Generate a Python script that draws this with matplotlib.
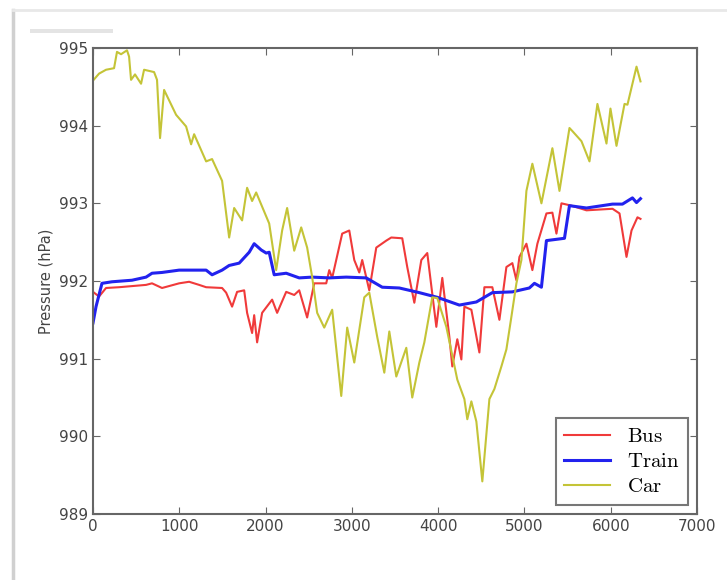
import matplotlib
matplotlib.use('Agg')
import matplotlib.pyplot as plt
from matplotlib.lines import Line2D
from matplotlib.patches import Rectangle

# values (time index, pressure hPa)
car_x = [0, 70, 151, 244, 278, 325, 394, 418, 441, 487, 557, 592, 708, 742, 777, 824,
         963, 1079, 1137, 1172, 1311, 1380, 1496, 1578, 1636, 1728, 1786, 1844, 1891,
         2042, 2123, 2192, 2250, 2332, 2413, 2482, 2540, 2598, 2680, 2772, 2877, 2946,
         3028, 3144, 3202, 3294, 3376, 3434, 3515, 3631, 3700, 3782, 3840, 3932, 3990,
         4095, 4222, 4304, 4338, 4385, 4443, 4512, 4594, 4652, 4733, 4791, 4849, 4907,
         4965, 5023, 5092, 5197, 5324, 5406, 5522, 5556, 5661, 5754, 5846, 5951, 5997,
         6067, 6160, 6194, 6299, 6345]
car_y = [994.58, 994.67, 994.72, 994.74, 994.95, 994.92, 994.97, 994.89, 994.59, 994.66,
         994.54, 994.72, 994.69, 994.59, 993.84, 994.46, 994.14, 993.99, 993.76, 993.89,
         993.54, 993.57, 993.29, 992.56, 992.94, 992.78, 993.20, 993.03, 993.14, 992.74,
         992.14, 992.65, 992.94, 992.39, 992.69, 992.43, 992.05, 991.59, 991.40, 991.63,
         990.52, 991.40, 990.95, 991.79, 991.85, 991.28, 990.82, 991.35, 990.77, 991.14,
         990.50, 990.95, 991.21, 991.79, 991.78, 991.41, 990.73, 990.48, 990.22, 990.45,
         990.19, 989.42, 990.48, 990.61, 990.90, 991.12, 991.54, 991.97, 992.27, 993.16,
         993.51, 993.00, 993.71, 993.16, 993.97, 993.93, 993.80, 993.54, 994.28, 993.77,
         994.22, 993.74, 994.28, 994.27, 994.76, 994.57]

bus_x = [0, 70, 151, 302, 615, 684, 800, 998, 1114, 1230, 1311, 1496, 1543, 1612, 1670,
         1752, 1786, 1844, 1868, 1902, 1960, 2076, 2134, 2239, 2332, 2390, 2482, 2564,
         2703, 2738, 2772, 2888, 2970, 3028, 3086, 3120, 3202, 3283, 3399, 3457, 3584,
         3642, 3724, 3805, 3874, 3979, 4048, 4130, 4164, 4222, 4269, 4304, 4385, 4478,
         4536, 4628, 4710, 4791, 4860, 4907, 4942, 5023, 5092, 5150, 5255, 5324, 5371,
         5429, 5545, 5719, 6021, 6102, 6183, 6241, 6310, 6345]
bus_y = [991.86, 991.80, 991.91, 991.92, 991.95, 991.97, 991.91, 991.97, 991.99, 991.95,
         991.92, 991.91, 991.85, 991.67, 991.86, 991.88, 991.59, 991.33, 991.56, 991.21,
         991.59, 991.76, 991.59, 991.86, 991.82, 991.88, 991.53, 991.97, 991.97, 992.14,
         992.04, 992.61, 992.65, 992.27, 992.11, 992.27, 991.88, 992.43, 992.52, 992.56,
         992.55, 992.18, 991.72, 992.27, 992.36, 991.41, 992.04, 991.28, 990.90, 991.25,
         990.99, 991.67, 991.63, 991.08, 991.92, 991.92, 991.50, 992.18, 992.23, 992.01,
         992.31, 992.48, 992.14, 992.48, 992.87, 992.88, 992.61, 993.00, 992.97, 992.91,
         992.93, 992.87, 992.31, 992.65, 992.82, 992.80]

train_x = [0, 35, 104, 220, 452, 615, 684, 800, 998, 1311, 1380, 1496, 1578, 1694, 1810,
           1868, 1949, 2007, 2042, 2100, 2239, 2390, 2540, 2738, 2935, 3167, 3352, 3550,
           3782, 3990, 4246, 4443, 4628, 4860, 5057, 5116, 5197, 5255, 5464, 5522, 5719,
           6021, 6136, 6252, 6299, 6345]
train_y = [991.46, 991.67, 991.97, 991.99, 992.01, 992.05, 992.10, 992.11, 992.14, 992.14,
           992.08, 992.14, 992.20, 992.23, 992.37, 992.48, 992.40, 992.36, 992.37, 992.08,
           992.10, 992.04, 992.05, 992.04, 992.05, 992.04, 991.92, 991.91, 991.85, 991.79,
           991.69, 991.73, 991.85, 991.86, 991.91, 991.97, 991.92, 992.52, 992.55, 992.97,
           992.94, 992.99, 992.99, 993.07, 993.01, 993.06]

labels = ['Bus', 'Train', 'Car']
colors = ['#f03a3a', '#2222ee', '#c4c437']

plt.rcParams['mathtext.fontset'] = 'cm'
fig = plt.figure(figsize=(7.27, 5.8), dpi=100)

# screenshot frame
fig.add_artist(Line2D([13/727, 13/727], [0, 1 - 10/580], color='#d0d0d0', lw=2.5))
fig.add_artist(Line2D([13/727, 1], [1 - 10/580, 1 - 10/580], color='#e8e8e8', lw=2))
fig.add_artist(Rectangle((30/727, 1 - 33/580), 83/727, 4/580, color='#e4e4e4', lw=0))

ax = fig.add_axes([93/727, 66/580, 604/727, 466/580])
ax.plot(bus_x, bus_y, color=colors[0], lw=1.5, label=r'$\mathrm{%s}$' % labels[0])
ax.plot(train_x, train_y, color=colors[1], lw=2.2, label=r'$\mathrm{%s}$' % labels[1])
ax.plot(car_x, car_y, color=colors[2], lw=1.5, label=r'$\mathrm{%s}$' % labels[2])

ax.set_xlim(0, 7000)
ax.set_ylim(989, 995)
ax.set_xticks(range(0, 7001, 1000))
ax.set_yticks(range(989, 996))
ax.tick_params(direction='in', top=True, right=True, length=5, color='#666666',
               labelcolor='#444444', labelsize=11)
for s in ax.spines.values():
    s.set_color('#666666')
    s.set_linewidth(1.5)
ax.set_ylabel('Pressure (hPa)', color='#444444', fontsize=10.5)

leg = ax.legend(loc='lower right', fontsize=15, fancybox=False, handlelength=2.2,
                borderaxespad=0.45, labelspacing=0.25)
leg.get_frame().set_edgecolor('#555555')
leg.get_frame().set_linewidth(1.5)

plt.savefig('out.png', dpi=100)
